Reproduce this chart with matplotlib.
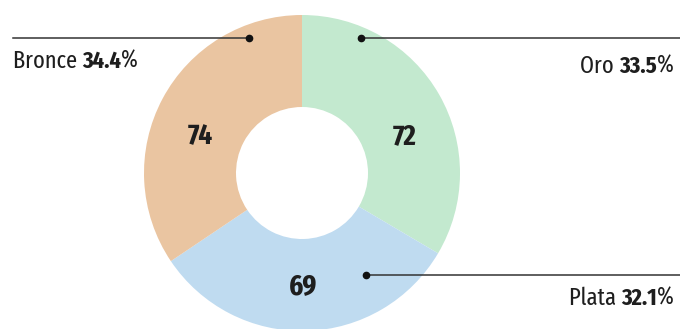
import matplotlib.pyplot as plt
from matplotlib import font_manager
import os

medals = ["Oro", "Plata", "Bronce"]
counts = [72, 69, 74]
colors = ["#c3e9cf", "#bfdbf0", "#eac5a1"]

# look for the narrowest condensed face available, fall back to DejaVu
def stretch_score(fn):
    if 'extracondensed' in fn or 'extra condensed' in fn:
        return 3
    if 'semicondensed' in fn or 'semi condensed' in fn:
        return 1
    if 'condensed' in fn or 'narrow' in fn:
        return 2
    return 0

bad = ['italic', 'oblique', 'light', 'thin', 'medium', 'semibold', 'extrabold',
       'black', 'heavy', 'demi']
best = {}
for f in font_manager.fontManager.ttflist:
    fn = os.path.basename(f.fname).lower().replace('-', '').replace('_', '')
    s = stretch_score(fn)
    if s == 0 or any(b in fn for b in bad):
        continue
    key = 'bold' if 'bold' in fn else 'reg'
    if key not in best or s > best[key][0]:
        best[key] = (s, f.fname)

def fp(size, bold=False):
    key = 'bold' if bold else 'reg'
    if key in best:
        return font_manager.FontProperties(fname=best[key][1], size=size)
    return font_manager.FontProperties(family='DejaVu Sans', size=size,
                                       weight='bold' if bold else 'normal')

W, H = 680, 329
fig = plt.figure(figsize=(W / 100, H / 100), dpi=100)
ax = fig.add_axes([0, 0, 1, 1])

cx, cy = 302, H - 173
R = 158
ax.pie(counts, colors=colors, startangle=90, counterclock=False,
       center=(cx, cy), radius=R, frame=True,
       wedgeprops=dict(width=R - 66, linewidth=0))

ax.set_xlim(0, W)
ax.set_ylim(0, H)
ax.set_aspect('equal')
ax.axis('off')

total = sum(counts)
pct = [100 * c / total for c in counts]

# value labels inside the ring
val_pos = {"Oro": (405, 136), "Plata": (303, 286), "Bronce": (200, 136)}
for m, c in zip(medals, counts):
    x, y = val_pos[m]
    ax.text(x, H - y, str(c), ha='center', va='center',
            fontproperties=fp(21, True), color='#1e1e1e')

# leader lines: dot position, line end, label anchor
leaders = {
    "Oro": ((361, 38), 680, (674, 66), 'right'),
    "Plata": ((366, 275), 680, (674, 298), 'right'),
    "Bronce": ((249, 38), 13, (13, 61), 'left'),
}
for m in medals:
    (dx, dy), xend, _, _ = leaders[m]
    ax.plot([dx, xend], [H - dy, H - dy], color='#333333', lw=1.1)
    ax.plot(dx, H - dy, 'o', color='#111111', ms=4.5)

# label with a plain part and a bold part
fig.canvas.draw()
r = fig.canvas.get_renderer()
for m, p in zip(medals, pct):
    _, _, (tx, ty), ha = leaders[m]
    parts = [(f"{m} ", False), (f"{p:.1f}", True), ("%", False)]
    texts = [ax.text(0, H - ty, s, ha='left', va='center',
                     fontproperties=fp(17.5, b), color='#1e1e1e')
             for s, b in parts]
    widths = [t.get_window_extent(renderer=r).width for t in texts]
    x0 = tx if ha == 'left' else tx - sum(widths)
    for t, w in zip(texts, widths):
        t.set_x(x0)
        x0 += w

fig.savefig("out.png", dpi=100)
